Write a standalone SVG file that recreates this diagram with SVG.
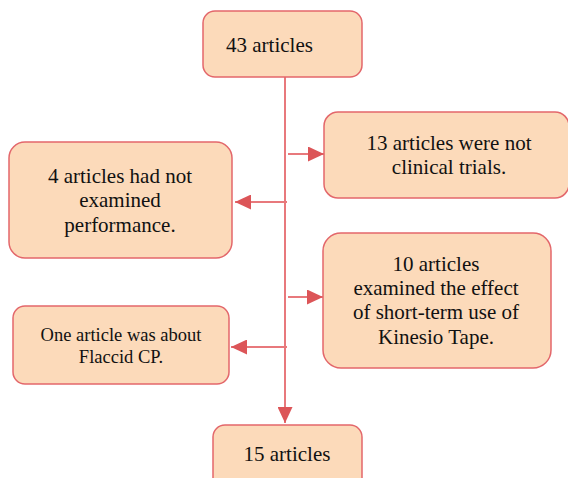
<svg xmlns="http://www.w3.org/2000/svg" width="568" height="478" viewBox="0 0 568 478" font-family="Liberation Serif, Times New Roman, serif">
<style>
.box{fill:#FCDABA;stroke:#E3676B;stroke-width:1.5}
.t{font-family:"Times New Roman","Liberation Serif",serif;font-size:21px;fill:#111;text-anchor:middle}
.s{font-size:18.5px}
.ln{stroke:#E8797C;stroke-width:2;fill:none}
</style>
<defs>
<marker id="ah" viewBox="0 0 16 15" refX="16" refY="7.5" markerWidth="16" markerHeight="15" markerUnits="userSpaceOnUse" orient="auto">
<path d="M0,0 L16,7.5 L0,15 Z" fill="#DC5558"/>
</marker>
</defs>
<rect width="568" height="478" fill="#fff"/>
<g id="connectors">
<line class="ln" x1="285" y1="77" x2="285" y2="423" marker-end="url(#ah)"/>
<line class="ln" x1="288" y1="154" x2="324" y2="154" marker-end="url(#ah)"/>
<line class="ln" x1="287" y1="202" x2="235" y2="202" marker-end="url(#ah)"/>
<line class="ln" x1="288" y1="297" x2="323" y2="297" marker-end="url(#ah)"/>
<line class="ln" x1="287" y1="347" x2="231" y2="347" marker-end="url(#ah)"/>
</g>
<g id="n43">
<rect class="box" x="203" y="11" width="159" height="66" rx="12"/>
<text class="t" x="226" y="52" style="text-anchor:start">43 articles</text>
</g>
<g id="n13">
<rect class="box" x="324" y="112" width="245" height="86" rx="14"/>
<text class="t" x="449" y="150">13 articles were not</text>
<text class="t" x="449" y="174">clinical trials.</text>
</g>
<g id="n4">
<rect class="box" x="9" y="142" width="223" height="116" rx="16"/>
<text class="t" x="120" y="183">4 articles had not</text>
<text class="t" x="120" y="207">examined</text>
<text class="t" x="120" y="232">performance.</text>
</g>
<g id="n10">
<rect class="box" x="323" y="233" width="228" height="135" rx="18"/>
<text class="t" x="436" y="271">10 articles</text>
<text class="t" x="436" y="295">examined the effect</text>
<text class="t" x="436" y="319">of short-term use of</text>
<text class="t" x="436" y="344">Kinesio Tape.</text>
</g>
<g id="n1">
<rect class="box" x="13" y="306" width="216" height="78" rx="12"/>
<text class="t s" x="121" y="341">One article was about</text>
<text class="t s" x="121" y="363">Flaccid CP.</text>
</g>
<g id="n15">
<rect class="box" x="213" y="425" width="149" height="66" rx="12"/>
<text class="t" x="287" y="461">15 articles</text>
</g>
</svg>
